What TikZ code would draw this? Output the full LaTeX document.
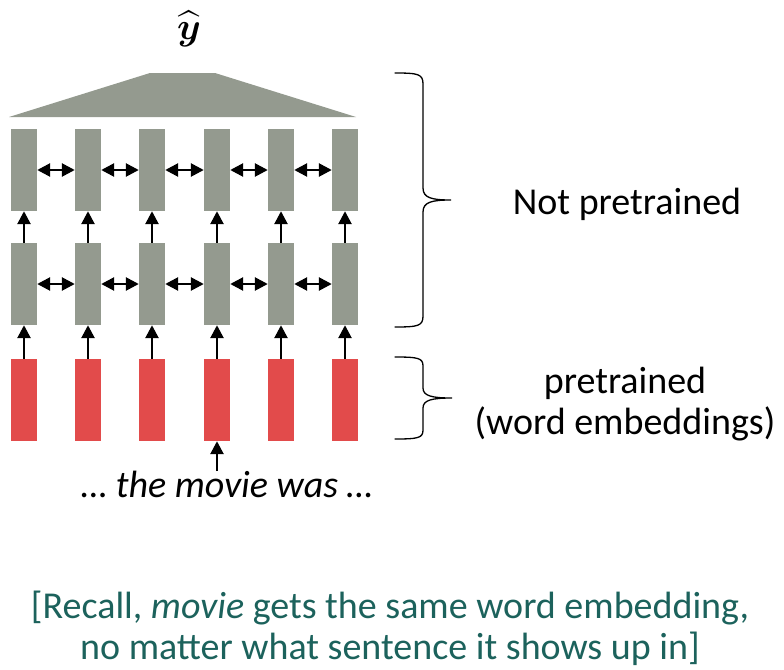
\documentclass[tikz,border=0pt]{standalone}
\usepackage{amsmath}
\usepackage{graphicx}
\usepackage{fontspec}
\setmainfont{Carlito}
\usetikzlibrary{arrows.meta}
\definecolor{cellgray}{RGB}{148,154,143}
\definecolor{cellred}{RGB}{226,75,75}
\definecolor{noteteal}{RGB}{28,98,92}
\tikzset{
  cell/.style={rectangle, inner sep=0pt, minimum width=26pt, minimum height=82pt, draw=none},
  hid/.style={cell, fill=cellgray},
  emb/.style={cell, fill=cellred},
  arr/.style={line width=2.6pt, -{Triangle[length=13pt,width=13pt]}},
  darr/.style={line width=2.6pt, {Triangle[length=13pt,width=13pt]}-{Triangle[length=13pt,width=13pt]}},
  brace/.style={line width=1.3pt, line cap=round},
  lbl/.style={font=\fontsize{38}{41}\selectfont, align=center, inner sep=0pt}
}
\begin{document}
\begin{tikzpicture}[x=1pt,y=-1pt]
\useasboundingbox (0,0) rectangle (784,669);
% trapezoid (output layer)
\fill[cellgray] (9,117) -- (150,73) -- (215,73) -- (356,117) -- cycle;
\node[inner sep=0pt] (yhat) at (189,29) {\scalebox{3.8}{$\widehat{\boldsymbol{y}}$}};
% cells
\foreach \i/\x in {1/24,2/88,3/152,4/217,5/281,6/345}{
  \node[hid] (t\i) at (\x,170) {};
  \node[hid] (m\i) at (\x,284) {};
  \node[emb] (e\i) at (\x,400) {};
}
\foreach \i in {1,...,6}{
  \draw[arr] (e\i.north) -- (m\i.south);
  \draw[arr] (m\i.north) -- (t\i.south);
}
\foreach \i/\j in {1/2,2/3,3/4,4/5,5/6}{
  \draw[darr] (t\i.east) -- (t\j.west);
  \draw[darr] (m\i.east) -- (m\j.west);
}
\coordinate (inp) at (217,471);
\draw[arr] (inp) -- (e4.south);
\node[lbl, anchor=base, font=\fontsize{38}{41}\selectfont\itshape] (sent) at (227,497) {… the movie was …};
% braces
\draw[brace] (395,73) .. controls (418,73) and (423,74) .. (423,84) -- (423,188)
  .. controls (423,198) and (432,200) .. (451,200)
  .. controls (432,200) and (423,202) .. (423,212) -- (423,316)
  .. controls (423,326) and (418,327) .. (395,327);
\draw[brace] (395,357) .. controls (418,357) and (423,358) .. (423,366) -- (423,388)
  .. controls (423,396) and (432,398) .. (452,398)
  .. controls (432,398) and (423,400) .. (423,408) -- (423,430)
  .. controls (423,438) and (418,439) .. (395,439);
\node[lbl, anchor=base] (np) at (627,214) {Not pretrained};
\node[lbl] (pt) at (625,404) {pretrained\\(word embeddings)};
\node[lbl, text=noteteal] (note) at (390,628) {[Recall, \textit{movie} gets the same word embedding,\\no matter what sentence it shows up in]};
\end{tikzpicture}
\end{document}
